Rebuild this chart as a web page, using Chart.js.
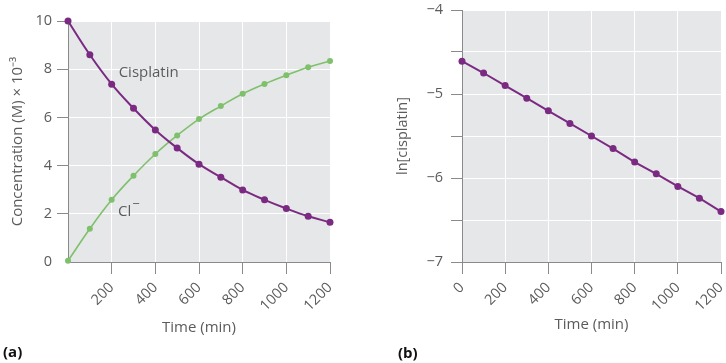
<!DOCTYPE html>
<html>
<head>
<meta charset="utf-8">
<script src="https://cdn.jsdelivr.net/npm/chart.js@4.4.1/dist/chart.umd.min.js"></script>
<style>
  html, body { margin: 0; padding: 0; background: #fff; }
  body { width: 726px; height: 363px; position: relative; overflow: hidden; font-family: "Open Sans", sans-serif; }
  canvas { position: absolute; top: 0; }
  #chartA { left: 0; }
  #chartB { left: 363px; }
  .panel { position: absolute; font-weight: bold; font-size: 15px; color: #111; }
</style>
</head>
<body>
<canvas id="chartA" width="363" height="363"></canvas>
<canvas id="chartB" width="363" height="363"></canvas>
<div class="panel" style="left:3px; top:341px;">(a)</div>
<div class="panel" style="left:398px; top:342px;">(b)</div>
<script>
// data
const times = [0, 100, 200, 300, 400, 500, 600, 700, 800, 900, 1000, 1100, 1200];
const cisplatin = [10, 8.6, 7.38, 6.38, 5.48, 4.73, 4.06, 3.52, 2.99, 2.58, 2.22, 1.9, 1.65];
const chloride = [0.05, 1.38, 2.58, 3.58, 4.48, 5.25, 5.93, 6.47, 6.98, 7.39, 7.75, 8.08, 8.34];
const lnCisplatin = [-4.61, -4.75, -4.9, -5.05, -5.2, -5.35, -5.5, -5.65, -5.81, -5.95, -6.1, -6.24, -6.4];

const PURPLE = '#7b2a82';
const GREEN = '#7fc06c';
const TEXT = '#5b5b5d';
const AXIS = '#8a8a8c';
const FONT = '"Open Sans", sans-serif';

const plotBg = {
    id: 'plotBg',
    beforeDraw(chart) {
        const a = chart.chartArea, ctx = chart.ctx;
        ctx.save();
        ctx.fillStyle = '#e6e7e9';
        ctx.fillRect(a.left, a.top, a.right - a.left, a.bottom - a.top);
        ctx.restore();
    }
};

// curve labels inside panel (a)
const curveLabels = {
    id: 'curveLabels',
    afterDatasetsDraw(chart) {
        const ctx = chart.ctx, x = chart.scales.x, y = chart.scales.y;
        ctx.save();
        ctx.fillStyle = TEXT;
        ctx.font = '15px ' + FONT;
        ctx.textBaseline = 'middle';
        ctx.fillText('Cisplatin', x.getPixelForValue(232), y.getPixelForValue(7.84));
        const cx = x.getPixelForValue(229), cy = y.getPixelForValue(2.1);
        ctx.fillText('Cl', cx, cy);
        const w = ctx.measureText('Cl').width;
        ctx.font = '13px ' + FONT;
        ctx.fillText('\u2212', cx + w + 1, cy - 7);
        ctx.restore();
    }
};

const minus = v => (v < 0 ? '\u2212' + Math.abs(v) : String(v));

// pin the axis boxes so the plot areas sit where they do in the figure
function fixBox(w, h) {
    return s => {
        if (w !== undefined) s.width = w;
        if (h !== undefined) s.height = h;
        s.paddingLeft = 0; s.paddingRight = 0; s.paddingTop = 0; s.paddingBottom = 0;
    };
}

function xAxis(showZero, titleBottom) {
    return {
        type: 'linear', min: 0, max: 1200,
        afterFit: fixBox(undefined, 101),
        border: { color: AXIS, width: 1 },
        grid: {
            color: '#ffffff', lineWidth: 1, tickLength: 12,
            tickColor: c => (!showZero && c.tick && c.tick.value === 0) ? 'rgba(0,0,0,0)' : AXIS
        },
        ticks: {
            stepSize: 200, color: TEXT, font: { family: FONT, size: 14.5 },
            minRotation: 45, maxRotation: 45, padding: 5,
            callback: v => (!showZero && v === 0) ? '' : v
        },
        title: { display: true, text: 'Time (min)', color: TEXT, font: { family: FONT, size: 15 }, padding: { top: 4, bottom: titleBottom } }
    };
}

new Chart(document.getElementById('chartA'), {
    type: 'line',
    data: {
        datasets: [
            {
                data: times.map((t, i) => ({ x: t, y: cisplatin[i] })),
                borderColor: PURPLE, backgroundColor: PURPLE, borderWidth: 2,
                pointRadius: 3.5, pointBorderWidth: 0, tension: 0.4, clip: false
            },
            {
                data: times.map((t, i) => ({ x: t, y: chloride[i] })),
                borderColor: GREEN, backgroundColor: GREEN, borderWidth: 1.6,
                pointRadius: 3, pointBorderWidth: 0, tension: 0.4, clip: false
            }
        ]
    },
    options: {
        responsive: false, animation: false,
        layout: { padding: { left: 0, right: 33, top: 21, bottom: 0 } },
        plugins: { legend: { display: false }, tooltip: { enabled: false } },
        scales: {
            x: xAxis(false, 26),
            y: {
                type: 'linear', min: 0, max: 10,
                afterFit: fixBox(68),
                border: { color: AXIS, width: 1 },
                grid: {
                    color: '#ffffff', lineWidth: 1, tickLength: 11,
                    tickColor: c => (c.tick && c.tick.value === 0) ? 'rgba(0,0,0,0)' : AXIS
                },
                ticks: { stepSize: 2, color: TEXT, font: { family: FONT, size: 14.5 }, padding: 5 },
                title: { display: true, text: 'Concentration (M) \u00d7 10\u207b\u00b3', color: TEXT, font: { family: FONT, size: 15 }, padding: { top: 9 } }
            }
        }
    },
    plugins: [plotBg, curveLabels]
});

new Chart(document.getElementById('chartB'), {
    type: 'line',
    data: {
        datasets: [{
            data: times.map((t, i) => ({ x: t, y: lnCisplatin[i] })),
            borderColor: PURPLE, backgroundColor: PURPLE, borderWidth: 2,
            pointRadius: 3.5, pointBorderWidth: 0, tension: 0, clip: false
        }]
    },
    options: {
        responsive: false, animation: false,
        layout: { padding: { left: 0, right: 5, top: 10, bottom: 0 } },
        plugins: { legend: { display: false }, tooltip: { enabled: false } },
        scales: {
            x: xAxis(true, 29),
            y: {
                type: 'linear', min: -7, max: -4,
                afterFit: fixBox(99),
                border: { color: AXIS, width: 1 },
                grid: { color: '#ffffff', lineWidth: 1, tickLength: 11, tickColor: AXIS },
                ticks: {
                    stepSize: 0.5, color: TEXT, font: { family: FONT, size: 14.5 }, padding: 8,
                    callback: v => Number.isInteger(v) ? minus(v) : ''
                },
                title: { display: true, text: 'ln[cisplatin]', color: TEXT, font: { family: FONT, size: 14.5 }, padding: { top: 31 } }
            }
        }
    },
    plugins: [plotBg]
});
</script>
</body>
</html>
